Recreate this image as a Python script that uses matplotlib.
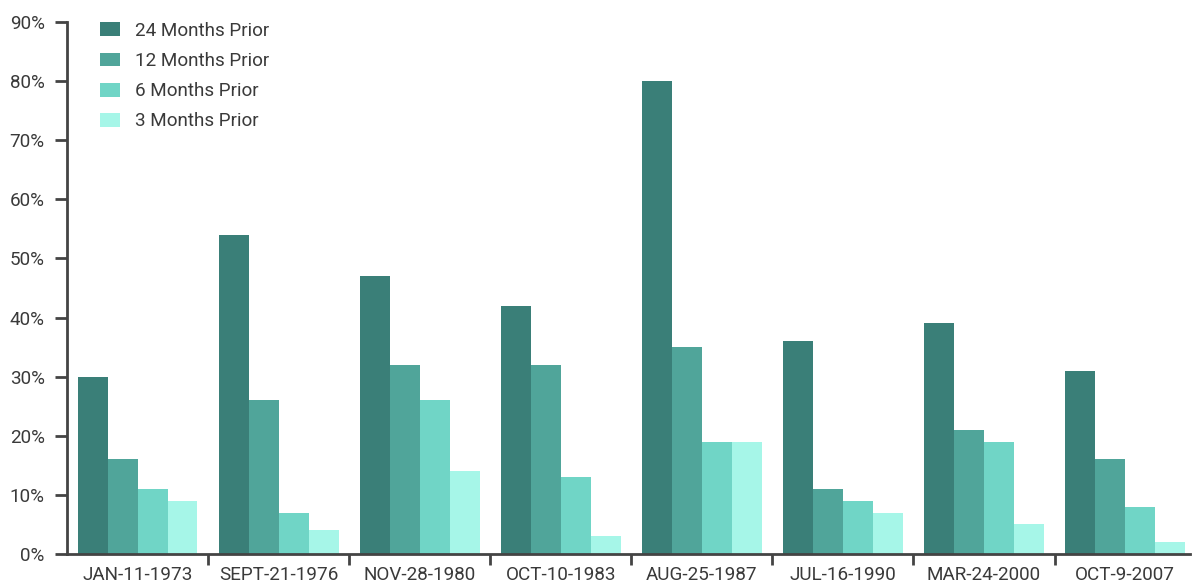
import matplotlib
matplotlib.use('Agg')
import matplotlib.pyplot as plt
import numpy as np
from matplotlib.patches import Patch

# crash dates and drawdown share before each
dates = ['JAN-11-1973', 'SEPT-21-1976', 'NOV-28-1980', 'OCT-10-1983',
         'AUG-25-1987', 'JUL-16-1990', 'MAR-24-2000', 'OCT-9-2007']
prior_24 = [30, 54, 47, 42, 80, 36, 39, 31]
prior_12 = [16, 26, 32, 32, 35, 11, 21, 16]
prior_6 = [11, 7, 26, 13, 19, 9, 19, 8]
prior_3 = [9, 4, 14, 3, 19, 7, 5, 2]

series_names = ['24 Months Prior', '12 Months Prior', '6 Months Prior', '3 Months Prior']
colors = ['#3a7f78', '#50a59a', '#70d5c6', '#a6f6e8']

plt.rcParams['font.family'] = ['Roboto', 'DejaVu Sans']
text_color = '#3a3a3a'
axis_color = '#444444'
fs = 13.6

fig = plt.figure(figsize=(11.93, 5.84), dpi=100)
ax = fig.add_axes([67 / 1193, 30 / 584, 1123 / 1193, 532 / 584])

x = np.arange(len(dates))
width = 0.2125
all_series = [prior_24, prior_12, prior_6, prior_3]
for i, vals in enumerate(all_series):
    ax.bar(x + (i - 1.5) * width, vals, width, color=colors[i], linewidth=0)

ax.set_xlim(-0.5, 7.46)
ax.set_ylim(0, 90)

ax.set_yticks(np.arange(0, 91, 10))
ax.set_yticklabels([f'{v}%' for v in range(0, 91, 10)], fontsize=fs, color=text_color)
ax.set_xticks(x)
ax.set_xticklabels(dates, fontsize=fs, color=text_color)
ax.tick_params(axis='x', which='major', length=0, pad=9)
ax.set_xticks(np.arange(0.5, 7, 1), minor=True)
ax.tick_params(axis='x', which='minor', length=8, width=2, color=axis_color, direction='out')
ax.tick_params(axis='y', length=9, width=2, color=axis_color, pad=7)

for side in ['top', 'right']:
    ax.spines[side].set_visible(False)
for side in ['left', 'bottom']:
    ax.spines[side].set_linewidth(2)
    ax.spines[side].set_color(axis_color)

handles = [Patch(facecolor=c, edgecolor='none') for c in colors]
leg = fig.legend(handles, series_names, loc='upper left',
                 bbox_to_anchor=(100 / 1193, 1 - 22 / 584), bbox_transform=fig.transFigure,
                 frameon=False, fontsize=fs, handlelength=1.05, handleheight=0.75,
                 labelspacing=0.64, handletextpad=0.8, borderpad=0, borderaxespad=0)
for t in leg.get_texts():
    t.set_color(text_color)

fig.savefig('out.png', dpi=100)
